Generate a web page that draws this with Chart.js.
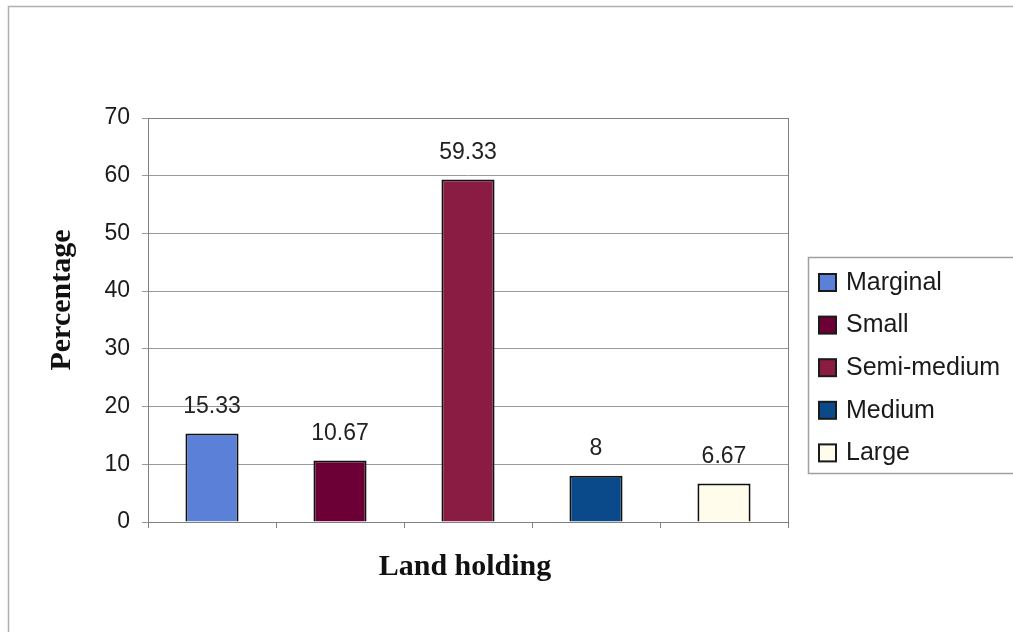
<!DOCTYPE html>
<html>
<head>
<meta charset="utf-8">
<title>Land holding</title>
<script src="https://cdn.jsdelivr.net/npm/chart.js@4"></script>
<style>
  html, body { margin: 0; padding: 0; background: #ffffff; }
  #wrap { width: 1013px; height: 632px; }
</style>
</head>
<body>
<div id="wrap"><canvas id="c" width="1013" height="632"></canvas></div>
<script>
// Land holding categories and their share of respondents (%)
const categories = ['Marginal', 'Small', 'Semi-medium', 'Medium', 'Large'];
const percentages = [15.33, 10.67, 59.33, 8, 6.67];
const barColors = ['#5A80D8', '#6C0036', '#8A1B42', '#0B4A8A', '#FFFCEB'];
const yTickValues = [0, 10, 20, 30, 40, 50, 60, 70];
const yAxisTitle = 'Percentage';
const xAxisTitle = 'Land holding';

const SANS = '"Liberation Sans", Arial, sans-serif';
const SERIF = '"Liberation Serif", "Times New Roman", serif';

// Frame, value labels, axis titles and the boxed legend
const decorations = {
  id: 'decorations',
  afterDraw(chart) {
    const ctx = chart.ctx;
    const area = chart.chartArea;
    ctx.save();

    // outer chart frame
    ctx.strokeStyle = '#b0b0b0';
    ctx.lineWidth = 1.5;
    ctx.strokeRect(8.5, 6.5, 1013, 640);

    // plot area border
    ctx.strokeStyle = '#808080';
    ctx.lineWidth = 1;
    ctx.strokeRect(Math.round(area.left) + 0.5, Math.round(area.top) + 0.5,
      Math.round(area.right - area.left), Math.round(area.bottom - area.top));

    // value labels above bars
    const meta = chart.getDatasetMeta(0);
    ctx.fillStyle = '#222222';
    ctx.font = '23px ' + SANS;
    ctx.textAlign = 'center';
    ctx.textBaseline = 'middle';
    meta.data.forEach((bar, i) => {
      ctx.fillText(String(percentages[i]), bar.x, bar.y - 27);
    });

    // axis titles
    ctx.fillStyle = '#111111';
    ctx.font = 'bold 30px ' + SERIF;
    ctx.fillText(xAxisTitle, 465, 567);
    ctx.save();
    ctx.translate(62, 300);
    ctx.rotate(-Math.PI / 2);
    ctx.fillText(yAxisTitle, 0, 0);
    ctx.restore();

    // legend box
    ctx.strokeStyle = '#a0a0a0';
    ctx.lineWidth = 1.5;
    ctx.strokeRect(808.5, 257.5, 230, 216);
    ctx.font = '25px ' + SANS;
    ctx.textAlign = 'left';
    ctx.textBaseline = 'middle';
    categories.forEach((name, i) => {
      const cy = 282 + i * 42.6;
      ctx.fillStyle = barColors[i];
      ctx.fillRect(819, cy - 8, 17, 17);
      ctx.strokeStyle = '#1a1a1a';
      ctx.lineWidth = 2;
      ctx.strokeRect(819, cy - 8, 17, 17);
      ctx.fillStyle = '#1a1a1a';
      ctx.fillText(name, 846, cy + 1);
    });

    ctx.restore();
  }
};

new Chart(document.getElementById('c'), {
  type: 'bar',
  data: {
    labels: categories,
    datasets: [{
      label: yAxisTitle,
      data: percentages,
      backgroundColor: barColors,
      borderColor: '#111111',
      borderWidth: 2,
      barPercentage: 0.415,
      categoryPercentage: 1.0
    }]
  },
  options: {
    responsive: false,
    animation: false,
    events: [],
    layout: { padding: { top: 118, left: 40, right: 225, bottom: 40 } },
    plugins: {
      legend: { display: false },
      tooltip: { enabled: false }
    },
    scales: {
      x: {
        ticks: { display: false },
        grid: {
          offset: true,
          drawOnChartArea: false,
          drawTicks: true,
          tickLength: 6,
          color: '#808080'
        },
        border: { color: '#808080', width: 1 },
        afterFit(scale) { scale.height = 70; }
      },
      y: {
        min: 0,
        max: 70,
        afterBuildTicks(scale) {
          scale.ticks = yTickValues.map(v => ({ value: v }));
        },
        ticks: {
          color: '#1a1a1a',
          font: { family: SANS, size: 23 },
          padding: 12
        },
        grid: {
          color: '#9a9a9a',
          lineWidth: 1,
          tickLength: 6
        },
        border: { color: '#808080', width: 1 },
        afterFit(scale) { scale.width = 108; }
      }
    }
  },
  plugins: [decorations]
});
</script>
</body>
</html>
